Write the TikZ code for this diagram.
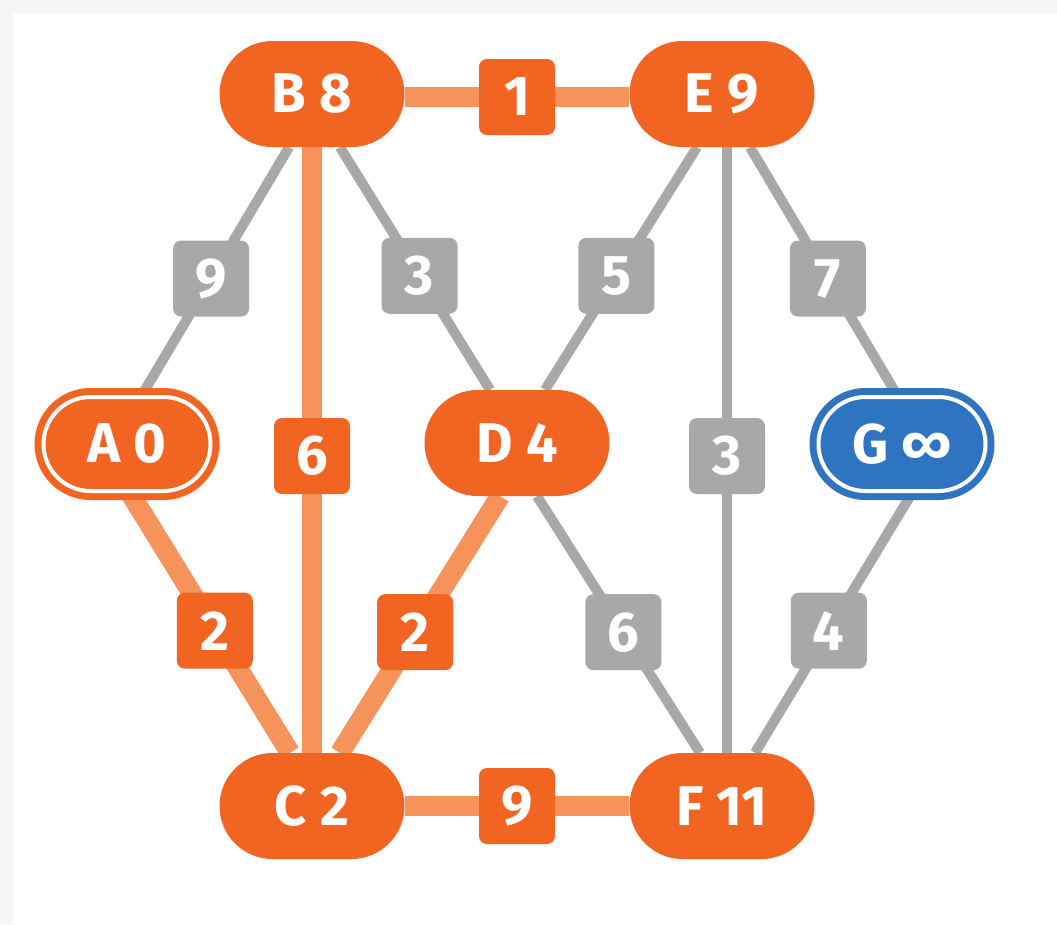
\documentclass[tikz,border=0pt]{standalone}
\usepackage{fontspec}
\setmainfont{Fira Sans}
\usetikzlibrary{positioning, backgrounds, shapes.misc}

\definecolor{nodeorange}{HTML}{F26422}
\definecolor{pathorange}{HTML}{F6935A}
\definecolor{edgegray}{HTML}{A8A7A9}
\definecolor{goalblue}{HTML}{2F74C1}
\definecolor{pagegray}{HTML}{F5F6F8}

\begin{document}
\begin{tikzpicture}[
  x=1pt, y=-1pt,
  every node/.style={font=\bfseries\fontsize{56}{60}\selectfont, text=white},
  vertex/.style={rounded rectangle, fill=nodeorange, minimum width=185pt, minimum height=106pt, inner sep=0pt},
  endvertex/.style={vertex, fill=#1, minimum width=167pt, minimum height=94pt,
    draw=white, line width=4pt, preaction={draw=#1, line width=18pt}},
  e/.style={edgegray, line width=10pt},
  etree/.style={pathorange, line width=20pt},
  w/.style={rectangle, rounded corners=8pt, minimum size=76pt, inner sep=0pt, fill=edgegray, pos=0.53},
  wtree/.style={w, fill=nodeorange},
]
\useasboundingbox (0,0) rectangle (1057,924);

% Vertices with distances
\node[vertex] (B) at (312,94) {B 8};
\node[vertex] (E) at (722,94) {E 9};
\node[endvertex=nodeorange] (A) at (127,444) {A 0};
\node[vertex] (D) at (517,443) {D 4};
\node[endvertex=goalblue] (G) at (902,444) {G ∞};
\node[vertex] (C) at (312,806) {C 2};
\node[vertex] (F) at (722,806) {F 11};

% Page and weighted edges behind the vertices
\begin{scope}[on background layer]
  \fill[pagegray] (0,0) rectangle (1057,924);
  \fill[white] (13,13) rectangle (1057,924);

  \draw[etree] ([yshift=-3pt]B.east) -- node[wtree, pos=0.5] (wBE) {1} ([yshift=-3pt]E.west);
  \draw[etree] (C.east) -- node[wtree, pos=0.5] (wCF) {9} (F.west);
  \draw[etree] (B.south) -- node[wtree, pos=0.51] (wBC) {6} (C.north);
  \draw[etree] ([xshift=3pt]A.south) -- node[wtree] (wAC) {2} ([xshift=-22pt]C.north);
  \draw[etree] ([xshift=-17pt]D.south) -- node[wtree] (wDC) {2} ([xshift=28pt]C.north);

  \draw[e] ([xshift=-23pt]B.south) -- node[w] (wBA) {9} ([xshift=15pt]A.north);
  \draw[e] ([xshift=28pt]B.south) -- node[w] (wBD) {3} ([xshift=-27pt]D.north);
  \draw[e] ([xshift=-25pt]E.south) -- node[w] (wED) {5} ([xshift=28pt]D.north);
  \draw[e] ([xshift=5pt]E.south) -- node[w, pos=0.51] (wEF) {3} ([xshift=5pt]F.north);
  \draw[e] ([xshift=28pt]E.south) -- node[w] (wEG) {7} ([xshift=-5pt]G.north);
  \draw[e] ([xshift=20pt]D.south) -- node[w] (wDF) {6} ([xshift=-22pt]F.north);
  \draw[e] ([xshift=10pt]G.south) -- node[w] (wGF) {4} ([xshift=33pt]F.north);
\end{scope}
\end{tikzpicture}
\end{document}
